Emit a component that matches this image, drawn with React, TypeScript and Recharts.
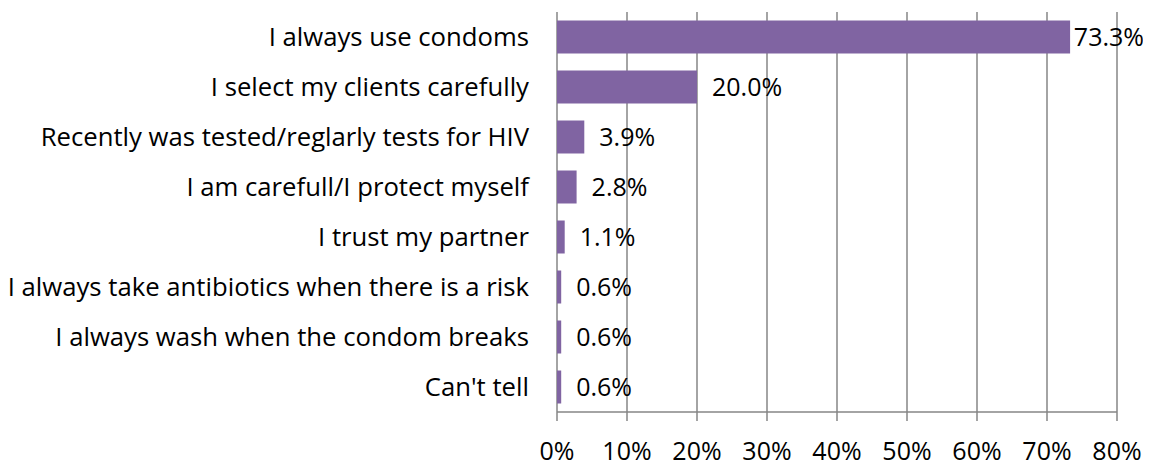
import React from "react";
import { BarChart, Bar, XAxis, YAxis, CartesianGrid, LabelList } from "recharts";

const categories = [
  "I always use condoms",
  "I select my clients carefully",
  "Recently was tested/reglarly tests for HIV",
  "I am carefull/I protect myself",
  "I trust my partner",
  "I always take antibiotics when there is a risk",
  "I always wash when the condom breaks",
  "Can't tell",
];
const values = [73.3, 20.0, 3.9, 2.8, 1.1, 0.6, 0.6, 0.6];
const xTicks = [0, 10, 20, 30, 40, 50, 60, 70, 80];
const boundaryTicks = [0, 1, 2, 3, 4, 5, 6, 7, 8];

const data = categories.map((name, i) => ({ name, value: values[i] }));

const W = 1143;
const H = 460;
const FONT = "'Open Sans', sans-serif";
const FS = 25;
const GRID = "#868686";

const renderLabel = (props: any) => {
  const { x, y, width, height, value } = props;
  const text = `${Number(value).toFixed(1)}%`;
  const digits = text.replace(/[^0-9]/g, "").length;
  const w = FS * (0.572 * digits + 0.27 + 0.86);
  let tx = x + width + 15;
  if (tx + w > W - 6) tx = W - 6 - w;
  return (
    <text x={tx} y={y + height / 2} dy="0.36em" fontSize={FS} fontFamily={FONT} fill="#000">
      {text}
    </text>
  );
};

export default function App() {
  return (
    <BarChart
      width={W}
      height={H}
      data={data}
      layout="vertical"
      margin={{ top: 4, right: 34, bottom: 0, left: 0 }}
      barCategoryGap="17%"
    >
      <CartesianGrid horizontal={false} stroke={GRID} strokeWidth={1.5} />
      <XAxis
        type="number"
        domain={[0, 80]}
        ticks={xTicks}
        tickFormatter={(v: number) => `${v}%`}
        tick={{ fill: "#000", fontSize: FS, fontFamily: FONT }}
        stroke={GRID}
        strokeWidth={1.5}
        tickSize={9}
        tickMargin={21}
        height={56}
        interval={0}
      />
      <YAxis
        yAxisId="cat"
        type="category"
        dataKey="name"
        width={549}
        tickLine={false}
        axisLine={false}
        tickMargin={22}
        tick={{ fill: "#000", fontSize: 25.7, fontFamily: FONT }}
        interval={0}
      />
      <YAxis
        yAxisId="num"
        type="number"
        domain={[0, 8]}
        ticks={boundaryTicks}
        width={0}
        tick={false}
        tickSize={8}
        stroke={GRID}
        strokeWidth={1.5}
        allowDataOverflow
      />
      <Bar yAxisId="cat" dataKey="value" fill="#8064A2" isAnimationActive={false}>
        <LabelList dataKey="value" content={renderLabel} />
      </Bar>
    </BarChart>
  );
}
